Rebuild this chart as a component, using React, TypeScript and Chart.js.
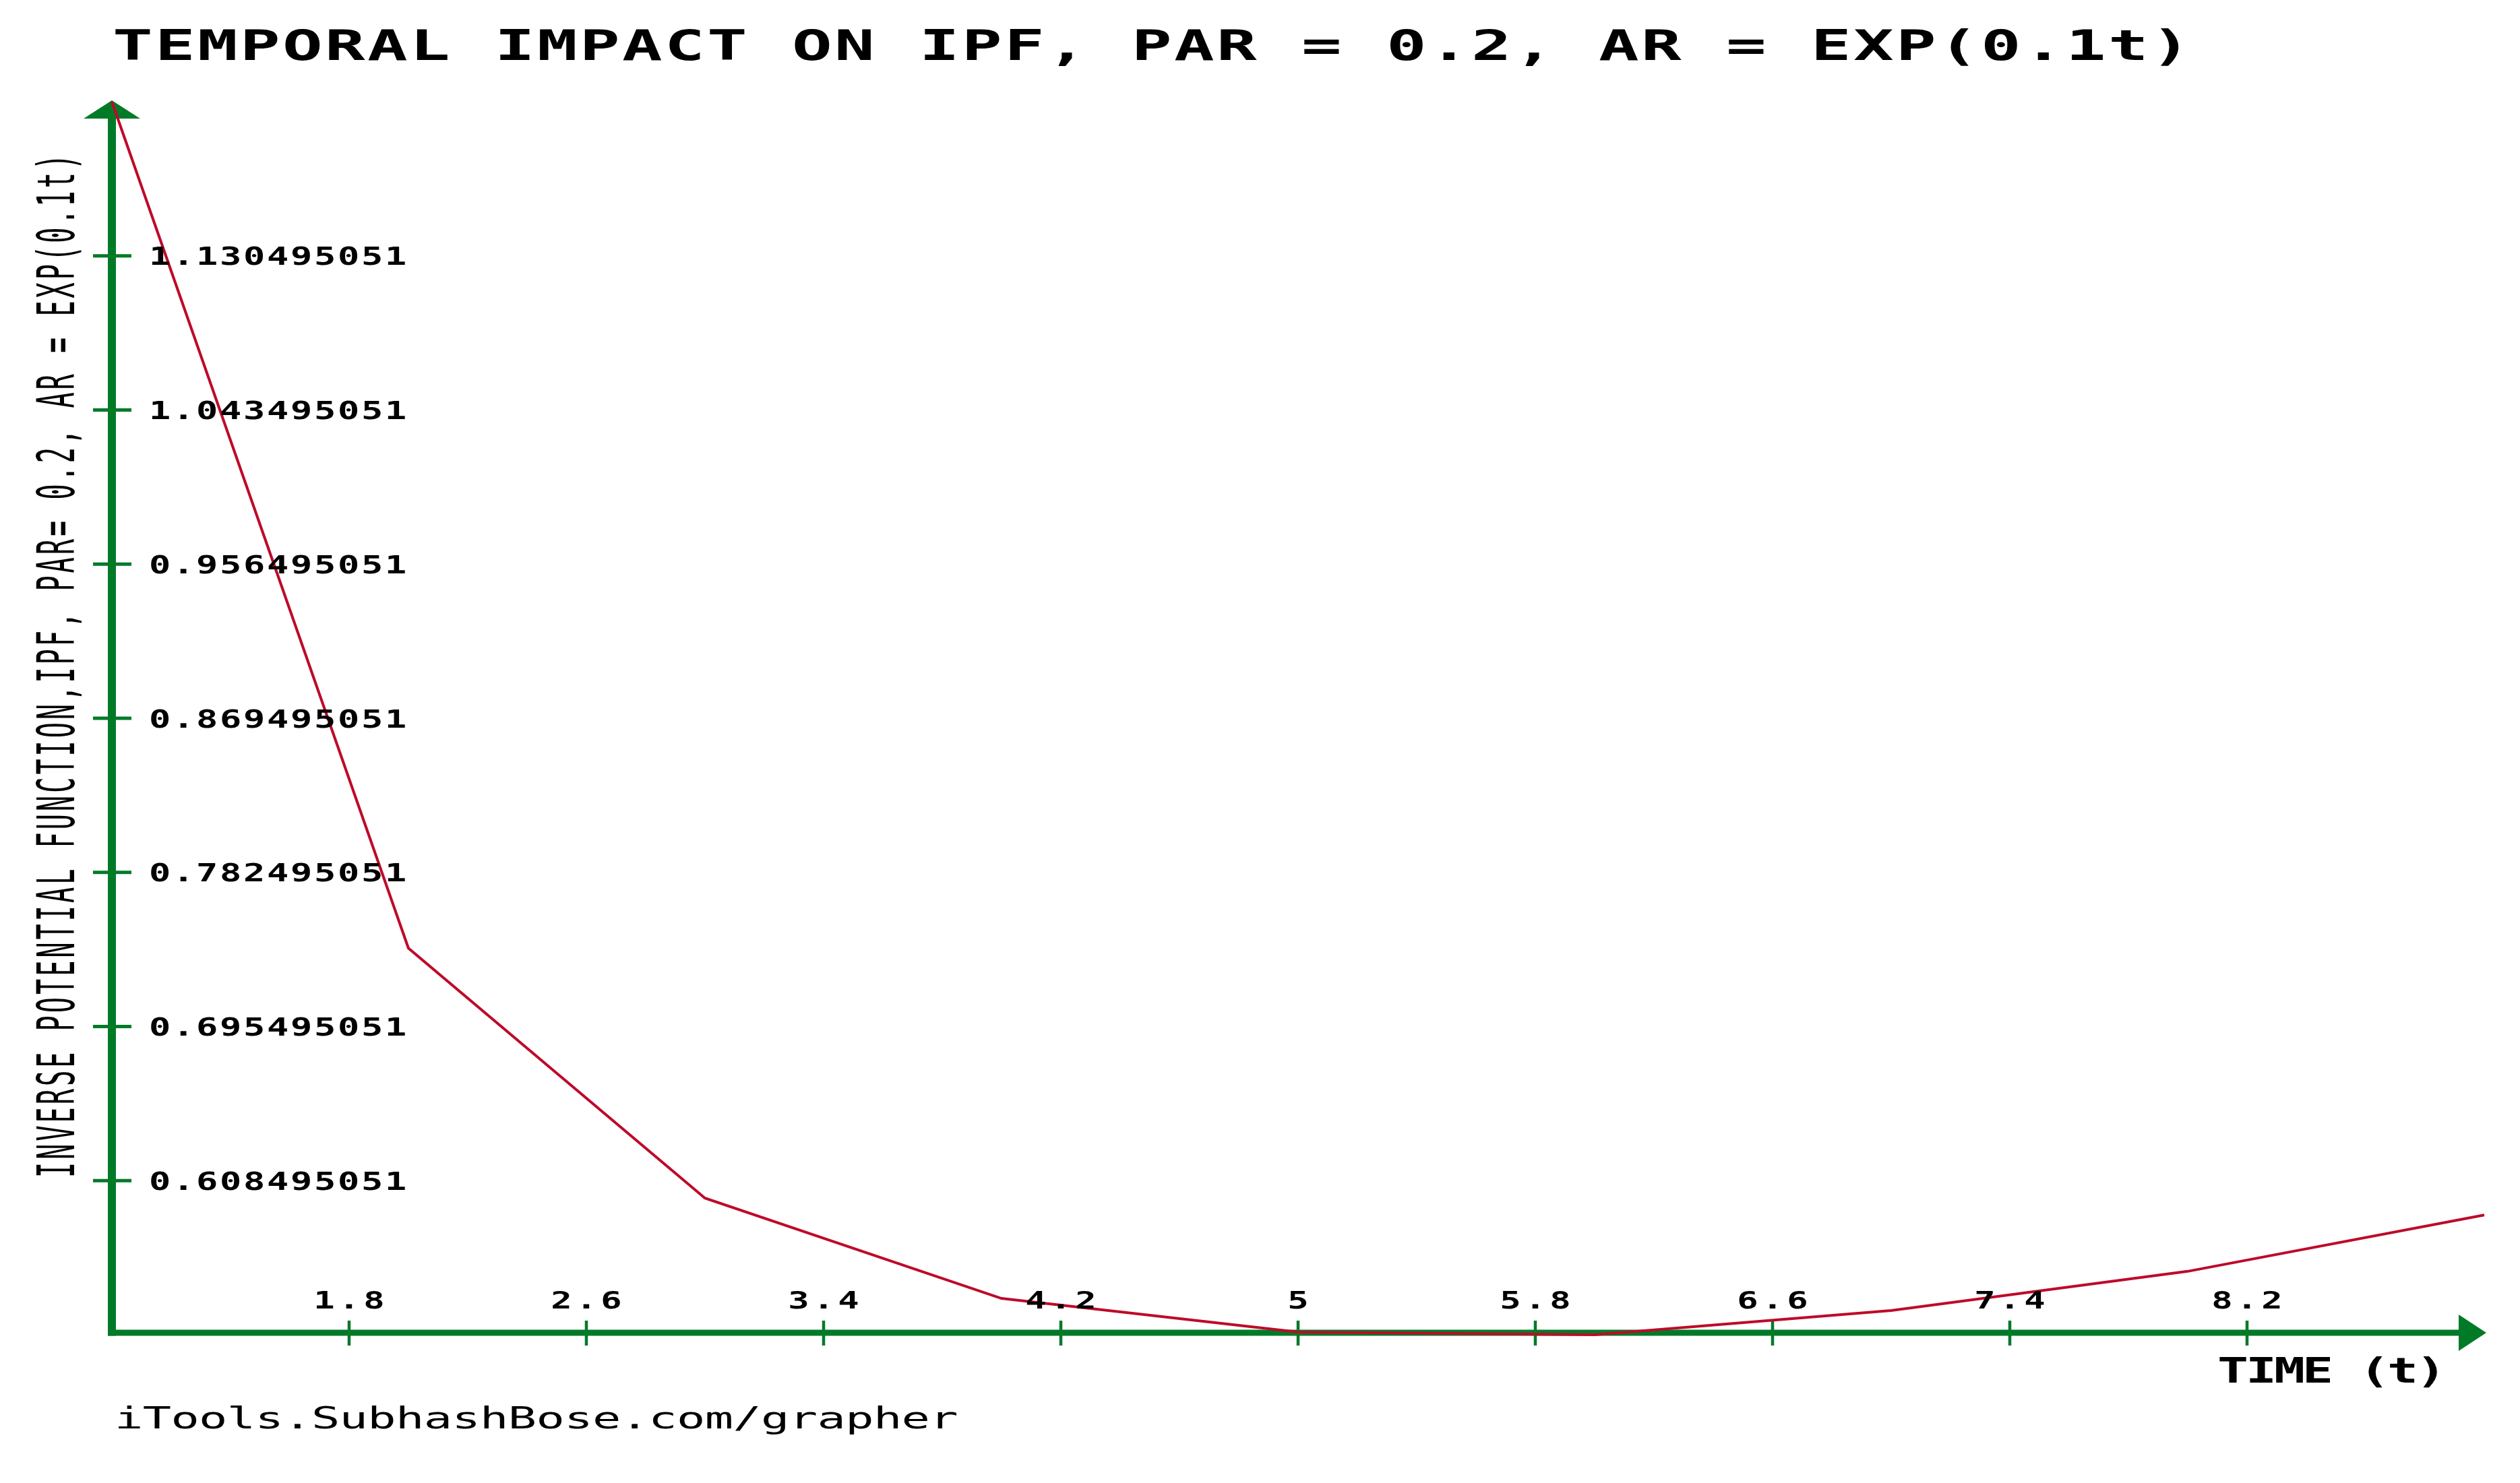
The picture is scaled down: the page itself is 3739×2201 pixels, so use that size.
import React, { useEffect, useRef } from "react";
import { Chart, registerables } from "chart.js";

Chart.register(...registerables);

// ---- data ----
const timeValues = [1, 2, 3, 4, 5, 6, 7, 8, 9];
const ipfValues = [1.2175, 0.7397, 0.5986, 0.542, 0.523, 0.5215, 0.5352, 0.5573, 0.5891];
const xTickLabels = ["1.8", "2.6", "3.4", "4.2", "5", "5.8", "6.6", "7.4", "8.2"];
const yTickLabels = [
  "0.608495051",
  "0.695495051",
  "0.782495051",
  "0.869495051",
  "0.956495051",
  "1.043495051",
  "1.130495051",
];
const X_MIN = 1;
const X_MAX = 9;
const Y_MIN = 0.521495051;
const Y_MAX = 1.217495051;

const TITLE = "TEMPORAL IMPACT ON IPF, PAR = 0.2, AR = EXP(0.1t)";
const Y_TITLE = "INVERSE POTENTIAL FUNCTION,IPF, PAR= 0.2, AR = EXP(0.1t)";
const X_TITLE = "TIME (t)";
const FOOTER = "iTools.SubhashBose.com/grapher";

const GREEN = "#017A28";
const RED = "#BE0A2A";
const MONO = '"DejaVu Sans Mono", "Liberation Mono", monospace';

type TextOpts = { size: number; weight: string; sx: number; advance: number; align?: "left" | "center" };

function spacedText(ctx: CanvasRenderingContext2D, text: string, x: number, y: number, o: TextOpts) {
  ctx.save();
  ctx.font = `${o.weight} ${o.size}px ${MONO}`;
  const anyCtx = ctx as any;
  const hasLS = "letterSpacing" in anyCtx;
  if (hasLS) anyCtx.letterSpacing = "0px";
  const natural = ctx.measureText(text).width / text.length;
  const spacing = o.advance / o.sx - natural;
  ctx.translate(x, y);
  ctx.scale(o.sx, 1);
  ctx.textAlign = "left";
  ctx.textBaseline = "alphabetic";
  ctx.fillStyle = "#000";
  let start = 0;
  if (o.align === "center") {
    const total = (text.length * o.advance) / o.sx - spacing;
    start = -total / 2;
  }
  if (hasLS) anyCtx.letterSpacing = spacing + "px";
  ctx.fillText(text, start, 0);
  ctx.restore();
}

const grapherPlugin = {
  id: "grapherAxes",
  beforeDatasetsDraw(chart: any) {
    const ctx: CanvasRenderingContext2D = chart.ctx;
    const xs = chart.scales.x;
    const ys = chart.scales.y;
    const x0 = xs.getPixelForValue(X_MIN);
    const xEnd = xs.getPixelForValue(X_MAX);
    const yBottom = ys.getPixelForValue(Y_MIN);
    const yTop = ys.getPixelForValue(Y_MAX);
    const axisY = yBottom - 3;
    ctx.save();
    ctx.fillStyle = GREEN;
    // vertical axis
    ctx.fillRect(x0 - 6, yTop + 24, 12, axisY + 4.5 - (yTop + 24));
    // up arrow
    ctx.beginPath();
    ctx.moveTo(x0, yTop - 2);
    ctx.lineTo(x0 + 42, yTop + 25);
    ctx.lineTo(x0 - 42, yTop + 25);
    ctx.closePath();
    ctx.fill();
    // horizontal axis
    ctx.fillRect(x0 - 6, axisY - 4.5, xEnd - 38 - (x0 - 6), 9);
    // right arrow
    ctx.beginPath();
    ctx.moveTo(xEnd + 3, axisY);
    ctx.lineTo(xEnd - 38, axisY - 27);
    ctx.lineTo(xEnd - 38, axisY + 27);
    ctx.closePath();
    ctx.fill();
    // y ticks
    yTickLabels.forEach((l) => {
      const py = ys.getPixelForValue(parseFloat(l));
      ctx.fillRect(x0 - 28, py - 2.5, 57, 5);
    });
    // x ticks
    xTickLabels.forEach((l) => {
      const px = xs.getPixelForValue(parseFloat(l));
      ctx.fillRect(px - 2.25, axisY - 18, 4.5, 37);
    });
    ctx.restore();
  },
  afterDatasetsDraw(chart: any) {
    const ctx: CanvasRenderingContext2D = chart.ctx;
    const xs = chart.scales.x;
    const ys = chart.scales.y;
    const x0 = xs.getPixelForValue(X_MIN);
    const xEnd = xs.getPixelForValue(X_MAX);
    const yBottom = ys.getPixelForValue(Y_MIN);
    const axisY = yBottom - 3;

    // title
    spacedText(ctx, TITLE, 167, 89, { size: 62, weight: "bold", sx: 1.6, advance: 63 });

    // y tick labels
    yTickLabels.forEach((l) => {
      const py = ys.getPixelForValue(parseFloat(l));
      spacedText(ctx, l, x0 + 55, py + 13.5, { size: 37, weight: "bold", sx: 1.45, advance: 35 });
    });

    // x tick labels
    xTickLabels.forEach((l) => {
      const px = xs.getPixelForValue(parseFloat(l));
      spacedText(ctx, l, px, axisY - 36, { size: 36, weight: "bold", sx: 1.45, advance: 37, align: "center" });
    });

    // x axis title
    spacedText(ctx, X_TITLE, xEnd - 396, axisY + 74, { size: 51, weight: "bold", sx: 1.5, advance: 42 });

    // y axis title (rotated)
    ctx.save();
    ctx.translate(110, 1748);
    ctx.rotate(-Math.PI / 2);
    spacedText(ctx, Y_TITLE, 0, 0, { size: 77, weight: "normal", sx: 0.5, advance: 27.2 });
    ctx.restore();

    // footer
    spacedText(ctx, FOOTER, 170, 2120, { size: 44, weight: "normal", sx: 1.6, advance: 41.7 });
  },
};

export default function App() {
  const ref = useRef<HTMLCanvasElement>(null);
  useEffect(() => {
    document.body.style.margin = "0";
    document.body.style.overflow = "hidden";
    document.body.style.background = "#ffffff";
    const canvas = ref.current;
    if (!canvas) return;
    const chart = new Chart(canvas, {
      type: "line",
      data: {
        datasets: [
          {
            label: "IPF",
            data: timeValues.map((t, i) => ({ x: t, y: ipfValues[i] })),
            borderColor: RED,
            backgroundColor: RED,
            borderWidth: 4,
            pointRadius: 0,
            tension: 0,
            fill: false,
            clip: false as any,
          },
        ],
      },
      options: {
        responsive: false,
        devicePixelRatio: 1,
        animation: false,
        events: [],
        layout: { padding: { left: 166, right: 53, top: 151, bottom: 220 } },
        plugins: {
          legend: { display: false },
          title: { display: false },
          tooltip: { enabled: false },
        },
        scales: {
          x: { type: "linear", min: X_MIN, max: X_MAX, display: false },
          y: { type: "linear", min: Y_MIN, max: Y_MAX, display: false },
        },
      },
      plugins: [grapherPlugin],
    });
    return () => chart.destroy();
  }, []);
  return (
    <canvas
      ref={ref}
      width={3739}
      height={2201}
      style={{ display: "block", width: "3739px", height: "2201px", background: "#ffffff" }}
    />
  );
}
